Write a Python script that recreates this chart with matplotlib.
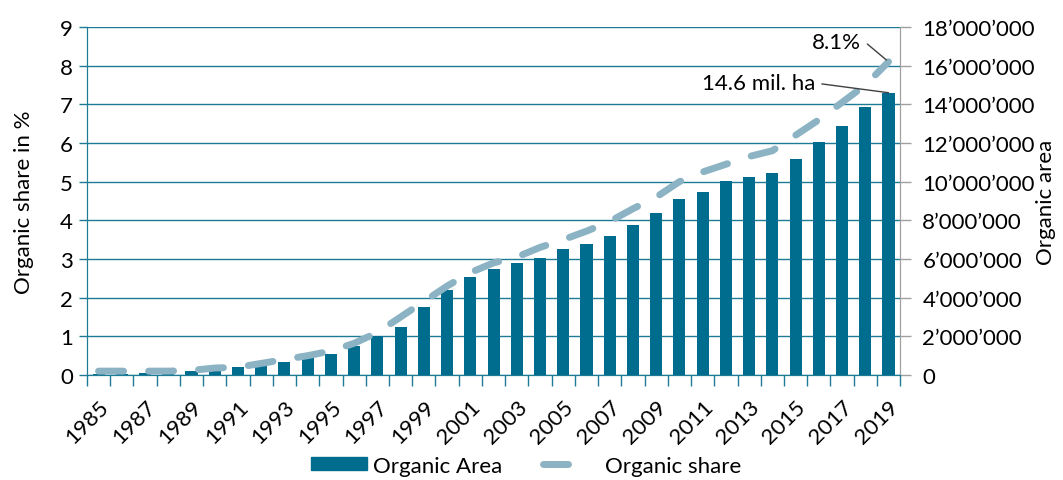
import matplotlib
matplotlib.use('Agg')
import matplotlib.pyplot as plt
from matplotlib.ticker import FuncFormatter, MultipleLocator
from matplotlib.patches import Patch
from matplotlib.lines import Line2D

years = list(range(1985, 2020))
# organic area in hectares
area = [40000, 60000, 100000, 160000, 220000, 300000, 420000, 580000, 660000, 960000,
        1080000, 1480000, 2000000, 2460000, 3540000, 4400000, 5080000, 5500000, 5780000, 6040000,
        6520000, 6780000, 7200000, 7740000, 8380000, 9120000, 9480000, 10040000, 10220000, 10440000,
        11180000, 12060000, 12900000, 13880000, 14600000]
# organic share of agricultural land in %
share = [0.1, 0.1, 0.1, 0.1, 0.12, 0.18, 0.2, 0.3, 0.4, 0.5,
         0.62, 0.82, 1.1, 1.5, 1.9, 2.3, 2.65, 2.9, 3.05, 3.3,
         3.5, 3.72, 3.97, 4.3, 4.6, 5.0, 5.25, 5.45, 5.65, 5.8,
         6.2, 6.6, 7.05, 7.5, 8.1]

bar_color = '#006d8f'
line_color = '#8cb3c4'
teal = '#1d7b96'
grey = '#a0a0a0'

plt.rcParams['font.family'] = ['Lato', 'DejaVu Sans']
plt.rcParams['font.size'] = 16

fig = plt.figure(figsize=(10.63, 4.81), dpi=100)
ax = fig.add_axes([0.0818, 0.2183, 0.765, 0.7235])
ax2 = ax.twinx()

# bars on the right axis, grid behind them
ax2.bar(years, area, width=0.52, color=bar_color, zorder=2)
ax2.set_ylim(0, 18000000)
ax2.yaxis.set_major_locator(MultipleLocator(2000000))
ax2.yaxis.set_major_formatter(FuncFormatter(lambda v, p: f"{int(v):,}".replace(",", "\u2019")))
ax2.grid(axis='y', color=teal, linewidth=1.0, zorder=0)
ax2.set_axisbelow(True)
ax2.set_ylabel('Organic area', labelpad=1)

# dashed share line on the left axis, drawn on top
ax.set_zorder(ax2.get_zorder() + 1)
ax.patch.set_visible(False)
ax.plot(years, share, color=line_color, linewidth=5, dash_capstyle='round',
        linestyle=(0, (3.6, 3.6)), zorder=3)
ax.set_ylim(0, 9)
ax.set_xlim(1984.5, 2019.5)
ax.yaxis.set_major_locator(MultipleLocator(1))
ax.set_ylabel('Organic share in %', labelpad=19)

ax.set_xticks(years[::2])
ax.set_xticks([y - 0.5 for y in years] + [2019.5], minor=True)
ax.tick_params(axis='x', which='major', length=0, pad=15)
ax.tick_params(axis='x', which='minor', length=8, color=teal, width=1)
for lab in ax.get_xticklabels():
    lab.set_rotation(45)
    lab.set_ha('right')
    lab.set_va('top')
    lab.set_rotation_mode('anchor')
ax.tick_params(axis='y', length=6, color=teal, width=1, pad=4)
ax2.tick_params(axis='y', length=8, color=grey, width=1, pad=8)

for a in (ax, ax2):
    a.spines['top'].set_visible(False)
    a.spines['left'].set_color(teal)
    a.spines['bottom'].set_color(teal)
    a.spines['right'].set_color(grey)

ax.annotate(f"{share[-1]}%", xy=(years[-1], share[-1]), xytext=(-20, 14),
            textcoords='offset points', ha='right', va='center',
            arrowprops=dict(arrowstyle='-', color='#404040', lw=1,
                            connectionstyle='angle,angleA=0,angleB=-40,rad=0',
                            relpos=(1, 0.5), shrinkA=3, shrinkB=2))
ax.annotate(f"{area[-1] / 1e6:.1f} mil. ha", xy=(years[-1], area[-1]), xycoords=ax2.transData,
            xytext=(-53, 7), textcoords='offset points', ha='right', va='center',
            arrowprops=dict(arrowstyle='-', color='#404040', lw=1,
                            relpos=(1, 0.5), shrinkA=3, shrinkB=0))

handles = [Patch(color=bar_color),
           Line2D([0], [0], color=line_color, linewidth=5, dash_capstyle='round',
                  linestyle=(0, (3.6, 10)))]
fig.legend(handles, ['Organic Area', 'Organic share'], loc='center', ncol=2,
           bbox_to_anchor=(0.495, 0.03), frameon=False, handlelength=2.5,
           handleheight=0.55, handletextpad=0.3, columnspacing=1.8)

fig.savefig('out.png', dpi=100)
